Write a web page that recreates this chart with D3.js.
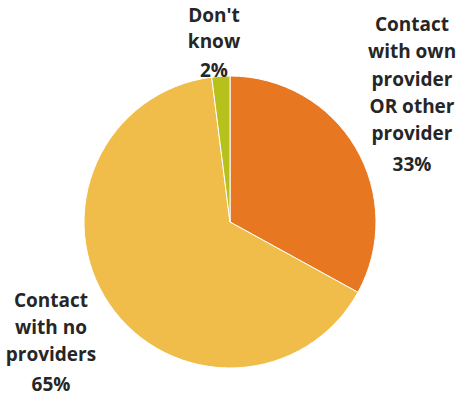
<!DOCTYPE html>
<html>
<head>
<meta charset="utf-8">
<script src="https://cdn.jsdelivr.net/npm/d3@7"></script>
<style>
  html, body { margin: 0; padding: 0; background: #ffffff; }
  svg { display: block; }
  text { font-family: "Open Sans", Lato, sans-serif; font-weight: 700; fill: #262626; }
</style>
</head>
<body>
<script>
// Survey answer shares (percent), in clockwise order from 12 o'clock
const categories = ["Contact with own provider OR other provider", "Contact with no providers", "Don't know"];
const values = [33, 65, 2];
const colors = ["#E87722", "#F0BD4A", "#B6C21B"];
// Label text, one entry per line
const labelLines = [
  ["Contact", "with own", "provider", "OR other", "provider", "33%"],
  ["Contact", "with no", "providers", "65%"],
  ["Don't", "know", "2%"]
];

const W = 458, H = 396;
const cx = 230, cy = 222, R = 146;

const svg = d3.select("body").append("svg")
  .attr("width", W).attr("height", H);

const pie = d3.pie().sort(null).value(d => d)(values);
const arc = d3.arc().innerRadius(0).outerRadius(R);

const g = svg.append("g").attr("transform", `translate(${cx},${cy})`);
g.selectAll("path").data(pie).join("path")
  .attr("d", arc)
  .attr("fill", (d, i) => colors[i])
  .attr("stroke", "#ffffff")
  .attr("stroke-width", 1);

// Label blocks: centre x and the baseline of each line
const labelPos = [
  { x: 412, y: [31, 58, 86, 113, 140, 171] },
  { x: 51,  y: [307, 334, 361, 391] },
  { x: 214, y: [22, 48, 77] }
];

labelLines.forEach((lines, i) => {
  const t = svg.append("text")
    .attr("text-anchor", "middle")
    .attr("font-size", 19);
  lines.forEach((s, j) => {
    t.append("tspan").attr("x", labelPos[i].x).attr("y", labelPos[i].y[j]).text(s);
  });
});
</script>
</body>
</html>
